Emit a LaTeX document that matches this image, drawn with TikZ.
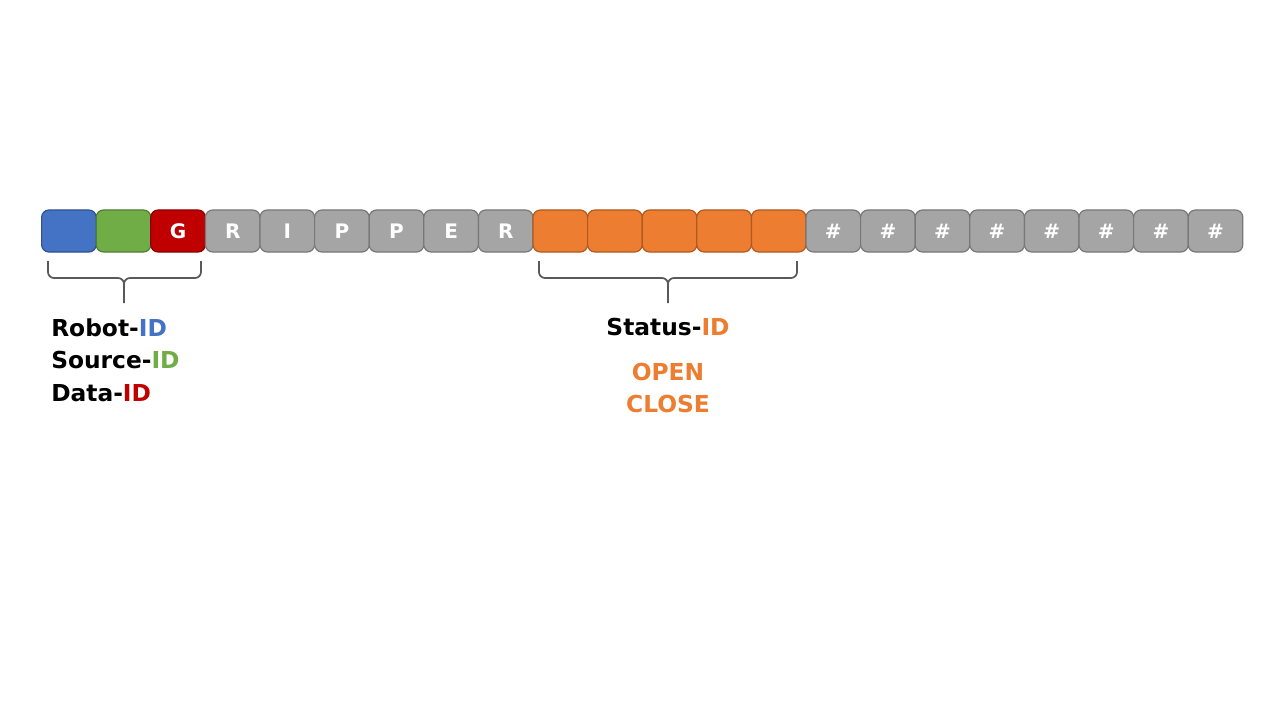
\documentclass[tikz,border=0pt]{standalone}
\usepackage{fontspec}
\setmainfont{DejaVu Sans}
\definecolor{cblue}{HTML}{4472C4}
\definecolor{cbluel}{HTML}{2F528F}
\definecolor{cgreen}{HTML}{70AD47}
\definecolor{cgreenl}{HTML}{507E32}
\definecolor{cred}{HTML}{C00000}
\definecolor{credl}{HTML}{8C0000}
\definecolor{cgray}{HTML}{A5A5A5}
\definecolor{cgrayl}{HTML}{787878}
\definecolor{corange}{HTML}{ED7D31}
\definecolor{corangel}{HTML}{AE5A21}
\definecolor{cbrace}{HTML}{595959}
\begin{document}
\begin{tikzpicture}[x=0.75pt,y=-0.75pt,
  cell/.style={draw, line width=0.9pt, rounded corners=5.5pt, minimum width=54.6*0.75pt, minimum height=42*0.75pt,
    inner sep=0pt, anchor=west, text=white, font=\fontsize{15}{18}\selectfont\bfseries},
  bluec/.style={cell, fill=cblue, draw=cbluel},
  greenc/.style={cell, fill=cgreen, draw=cgreenl},
  redc/.style={cell, fill=cred, draw=credl},
  grayc/.style={cell, fill=cgray, draw=cgrayl},
  orangec/.style={cell, fill=corange, draw=corangel},
  brace/.style={draw=cbrace, line width=1.3pt, line join=round},
  lbl/.style={font=\fontsize{17.5}{24.4}\selectfont\bfseries, inner sep=0pt}]
\useasboundingbox (0,0) rectangle (1280,720);
\fill[white] (0,0) rectangle (1280,720);
\def\w{54.6}
\node[bluec] (c1) at (41+0*\w,231) {};
\node[greenc] (c2) at (41+1*\w,231) {};
\node[redc] (c3) at (41+2*\w,231) {G};
\node[grayc] (c4) at (41+3*\w,231) {R};
\node[grayc] (c5) at (41+4*\w,231) {I};
\node[grayc] (c6) at (41+5*\w,231) {P};
\node[grayc] (c7) at (41+6*\w,231) {P};
\node[grayc] (c8) at (41+7*\w,231) {E};
\node[grayc] (c9) at (41+8*\w,231) {R};
\node[orangec] (c10) at (41+9*\w,231) {};
\node[orangec] (c11) at (41+10*\w,231) {};
\node[orangec] (c12) at (41+11*\w,231) {};
\node[orangec] (c13) at (41+12*\w,231) {};
\node[orangec] (c14) at (41+13*\w,231) {};
\foreach \i in {15,...,22}{
  \node[grayc] (c\i) at (41+\i*\w-\w,231) {\#};
}
% braces
\coordinate (b1l) at (48,261);
\coordinate (b1r) at (201,261);
\coordinate (b1t) at (124,303);
\draw[brace] (b1l) -- (48,272) to[out=-90,in=180] (54,278) -- (118,278) to[out=0,in=90] (124,284) -- (b1t);
\draw[brace] (b1r) -- (201,272) to[out=-90,in=0] (195,278) -- (130,278) to[out=180,in=90] (124,284);
\coordinate (b2l) at (539,261);
\coordinate (b2r) at (797,261);
\coordinate (b2t) at (668,303);
\draw[brace] (b2l) -- (539,272) to[out=-90,in=180] (545,278) -- (662,278) to[out=0,in=90] (668,284) -- (b2t);
\draw[brace] (b2r) -- (797,272) to[out=-90,in=0] (791,278) -- (674,278) to[out=180,in=90] (668,284);
% labels
\node[lbl, anchor=base west] (l1) at (51,336) {Robot-\textcolor{cblue}{ID}};
\node[lbl, anchor=base west] (l2) at (51,368.5) {Source-\textcolor{cgreen}{ID}};
\node[lbl, anchor=base west] (l3) at (51,401) {Data-\textcolor{cred}{ID}};
\node[lbl, anchor=base] (s1) at (668,335) {Status-\textcolor{corange}{ID}};
\node[lbl, anchor=base, text=corange] (s2) at (668,380) {OPEN};
\node[lbl, anchor=base, text=corange] (s3) at (668,412) {CLOSE};
\end{tikzpicture}
\end{document}
